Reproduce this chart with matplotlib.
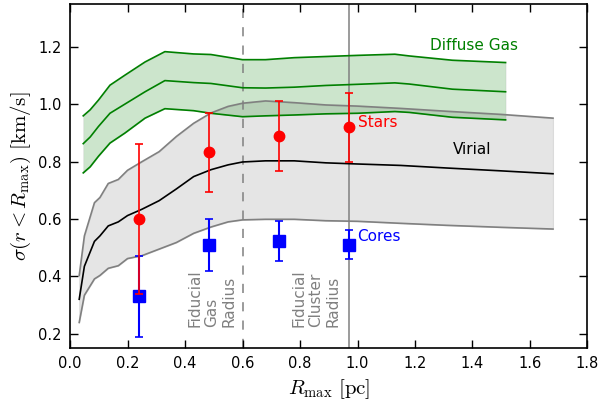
import matplotlib
matplotlib.use("Agg")
import matplotlib.pyplot as plt
import numpy as np

plt.rcParams['mathtext.fontset'] = 'cm'
plt.rcParams['font.family'] = ['DejaVu Sans']

# Virial band
vir_x = [0.032, 0.05, 0.085, 0.104, 0.133, 0.168, 0.20, 0.25, 0.31, 0.37, 0.43,
         0.49, 0.55, 0.60, 0.68, 0.78, 0.89, 1.0, 1.15, 1.31, 1.5, 1.68]
vir_med = [0.320, 0.435, 0.522, 0.541, 0.576, 0.590, 0.612, 0.634, 0.664, 0.705, 0.748,
           0.772, 0.789, 0.799, 0.803, 0.803, 0.796, 0.792, 0.787, 0.778, 0.768, 0.758]
vir_hi = [0.403, 0.541, 0.657, 0.675, 0.724, 0.738, 0.770, 0.800, 0.835, 0.888, 0.934,
          0.970, 0.993, 1.004, 1.012, 1.006, 0.998, 0.994, 0.986, 0.976, 0.965, 0.952]
vir_lo = [0.239, 0.334, 0.391, 0.403, 0.428, 0.437, 0.462, 0.472, 0.495, 0.518, 0.550,
          0.572, 0.590, 0.597, 0.599, 0.599, 0.594, 0.592, 0.585, 0.578, 0.571, 0.565]

# Diffuse gas band
gas_x = [0.046, 0.070, 0.099, 0.139, 0.191, 0.261, 0.33, 0.43, 0.49, 0.60, 0.68,
         0.78, 0.89, 1.0, 1.13, 1.18, 1.33, 1.515]
gas_med = [0.863, 0.886, 0.923, 0.969, 1.001, 1.044, 1.083, 1.076, 1.073, 1.058, 1.057,
           1.060, 1.066, 1.070, 1.075, 1.071, 1.053, 1.044]
gas_hi = [0.960, 0.981, 1.015, 1.067, 1.102, 1.148, 1.184, 1.176, 1.174, 1.156, 1.156,
          1.163, 1.167, 1.171, 1.175, 1.169, 1.154, 1.146]
gas_lo = [0.761, 0.782, 0.819, 0.865, 0.900, 0.952, 0.985, 0.978, 0.969, 0.957, 0.960,
          0.963, 0.967, 0.969, 0.975, 0.972, 0.955, 0.946]

# Stars and cores
pt_x = [0.241, 0.484, 0.726, 0.969]
star_y = [0.60, 0.833, 0.890, 0.920]
star_err = [0.262, 0.137, 0.123, 0.12]
core_y = [0.330, 0.51, 0.522, 0.51]
core_err = [0.140, 0.09, 0.07, 0.05]

gas_radius = 0.603
cluster_radius = 0.969

fig = plt.figure(figsize=(6.02, 4.07), dpi=100)
ax = fig.add_axes([0.1163, 0.145, 0.9759 - 0.1163, 0.990 - 0.145])

ax.fill_between(vir_x, vir_lo, vir_hi, facecolor='gray', alpha=0.2,
                edgecolor='gray', linewidth=0.8, zorder=1)
ax.plot(vir_x, vir_hi, color='gray', lw=1.2, zorder=2)
ax.plot(vir_x, vir_lo, color='gray', lw=1.2, zorder=2)
ax.plot(vir_x, vir_med, color='black', lw=1.2, zorder=2)

ax.fill_between(gas_x, gas_lo, gas_hi, facecolor='green', alpha=0.2,
                edgecolor='gray', linewidth=0.5, zorder=1)
ax.plot(gas_x, gas_hi, color='green', lw=1.2, zorder=2)
ax.plot(gas_x, gas_lo, color='green', lw=1.2, zorder=2)
ax.plot(gas_x, gas_med, color='green', lw=1.2, zorder=2)

ax.axvline(gas_radius, color='gray', ls='--', lw=1.1, dashes=(6, 6), zorder=1.5)
ax.axvline(cluster_radius, color='gray', ls='-', lw=1.1, zorder=1.5)

ax.errorbar(pt_x, core_y, yerr=core_err, fmt='s', color='blue', ms=8,
            elinewidth=1.5, capsize=3, capthick=1.2, zorder=3)
ax.errorbar(pt_x, star_y, yerr=star_err, fmt='o', color='red', ms=7.5,
            elinewidth=1.2, capsize=3, capthick=1.2, zorder=4)

fs = 11
ax.text(1.252, 1.206, 'Diffuse Gas', color='green', fontsize=fs, va='center', ha='left')
ax.text(1.003, 0.937, 'Stars', color='red', fontsize=fs, va='center', ha='left')
ax.text(1.40, 0.841, 'Virial', color='black', fontsize=fs, va='center', ha='center')
ax.text(1.0, 0.539, 'Cores', color='blue', fontsize=fs, va='center', ha='left')
ax.text(0.578, 0.224, 'Fiducial\nGas\nRadius', color='gray', fontsize=fs,
        rotation=90, ha='right', va='bottom', multialignment='left', linespacing=1.15)
ax.text(0.940, 0.224, 'Fiducial\nCluster\nRadius', color='gray', fontsize=fs,
        rotation=90, ha='right', va='bottom', multialignment='left', linespacing=1.15)

ax.set_xlim(0, 1.8)
ax.set_ylim(0.15, 1.35)
ax.set_xticks(np.arange(0, 1.81, 0.2))
ax.set_yticks(np.arange(0.2, 1.21, 0.2))
ax.set_xticklabels(['%.1f' % v for v in np.arange(0, 1.81, 0.2)])
ax.set_yticklabels(['%.1f' % v for v in np.arange(0.2, 1.21, 0.2)])
ax.tick_params(direction='in', top=True, right=True, length=6, width=1, labelsize=10.5, pad=6)
for s in ax.spines.values():
    s.set_linewidth(1.2)

ax.set_xlabel(r'$R_{\rm max}\ [\rm pc]$', fontsize=15)
ax.set_ylabel(r'$\sigma(r < R_{\rm max})\ [\rm km/s]$', fontsize=15)

fig.savefig('out.png', dpi=100)
